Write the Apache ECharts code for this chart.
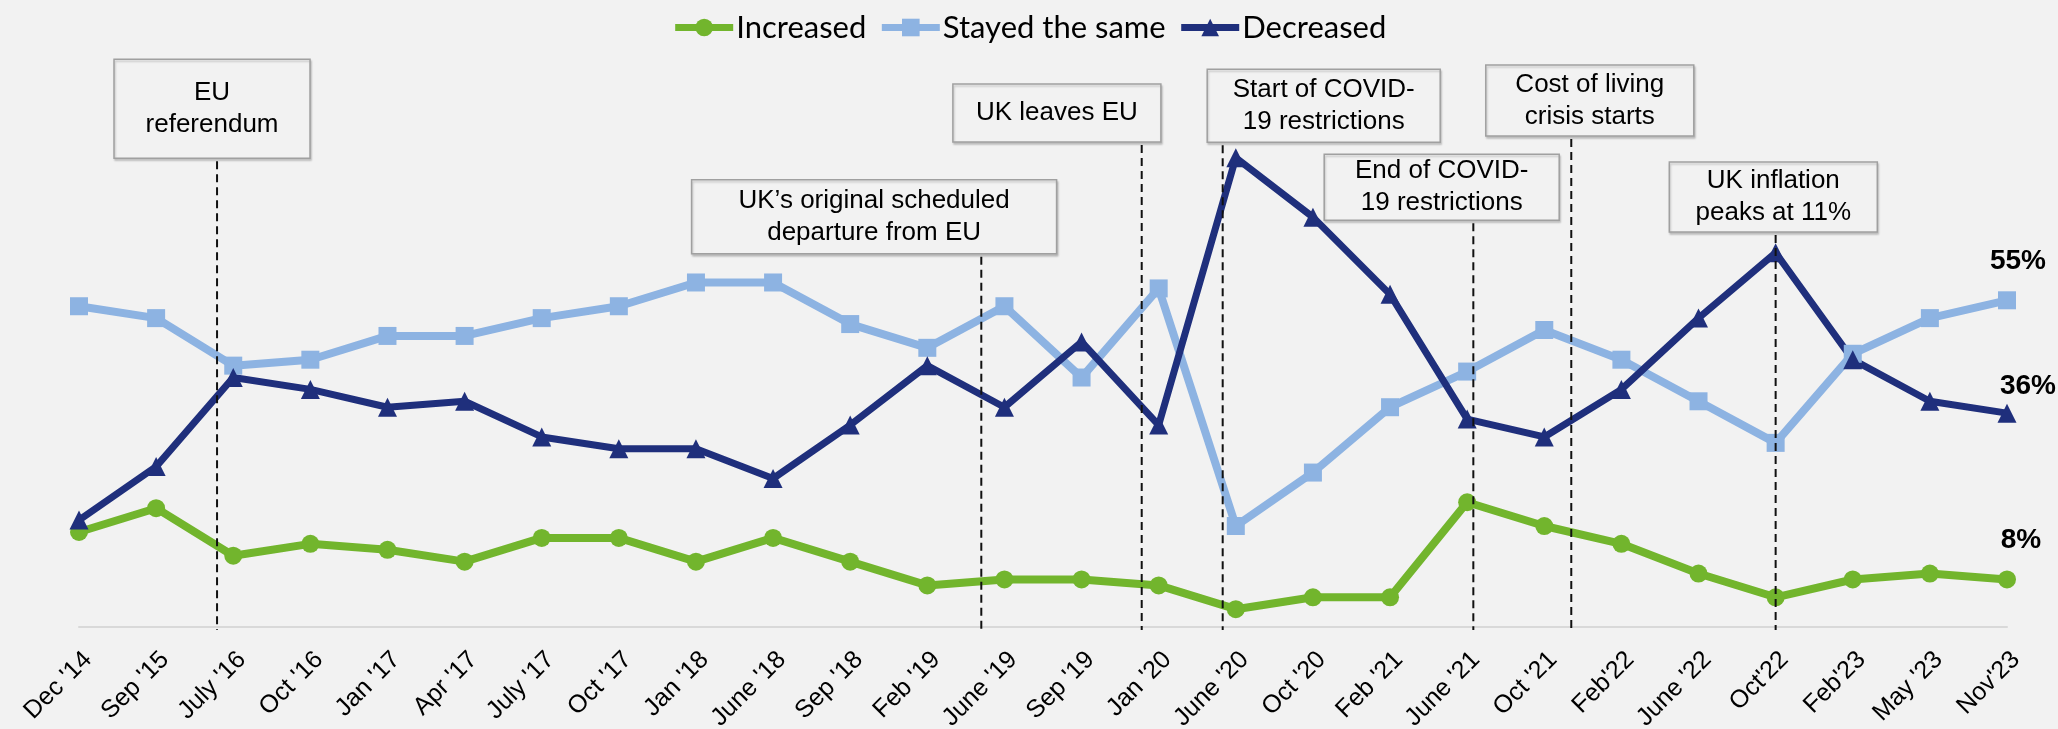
<!DOCTYPE html>
<html>
<head>
<meta charset="utf-8">
<title>Perceived change over time</title>
<script src="https://cdn.jsdelivr.net/npm/echarts@6/dist/echarts.min.js"></script>
<style>
  html, body { margin: 0; padding: 0; background: #f2f2f2; }
  #chart { width: 2058px; height: 729px; }
</style>
</head>
<body>
<div id="chart"></div>
<script>
// Survey waves
const categories = ["Dec '14", "Sep '15", "July '16", "Oct '16", "Jan '17", "Apr '17", "July '17",
  "Oct '17", "Jan '18", "June '18", "Sep '18", "Feb '19", "June '19", "Sep '19", "Jan '20",
  "June '20", "Oct '20", "Feb '21", "June '21", "Oct '21", "Feb'22", "June '22", "Oct'22",
  "Feb'23", "May '23", "Nov'23"];

// Share of respondents (%)
const increased  = [16, 20, 12, 14, 13, 11, 15, 15, 11, 15, 11, 7, 8, 8, 7, 3, 5, 5, 21, 17, 14, 9, 5, 8, 9, 8];
const stayedSame = [54, 52, 44, 45, 49, 49, 52, 54, 58, 58, 51, 47, 54, 42, 57, 17, 26, 37, 43, 50, 45, 38, 31, 46, 52, 55];
const decreased  = [18, 27, 42, 40, 37, 38, 32, 30, 30, 25, 34, 44, 37, 48, 34, 79, 69, 56, 35, 32, 40, 52, 63, 45, 38, 36];

// Events and when they happened, as a position between survey waves
const eventLabels = ["EU\nreferendum", "UK\u2019s original scheduled\ndeparture from EU", "UK leaves EU",
  "Start of COVID-\n19 restrictions", "End of COVID-\n19 restrictions", "Cost of living\ncrisis starts",
  "UK inflation\npeaks at 11%"];
const eventAt = [1.79, 11.70, 13.78, 14.83, 18.08, 19.35, 22.0];

// Callout placement: box centre (wave index), box top (%), box size (px)
const calloutLayout = [
  { cx: 1.725, top: 95.6, w: 196, h: 99 },
  { cx: 10.31, top: 75.3, w: 365, h: 74 },
  { cx: 12.68, top: 91.4, w: 208, h: 58 },
  { cx: 16.14, top: 93.9, w: 233, h: 73 },
  { cx: 17.67, top: 79.6, w: 235, h: 66 },
  { cx: 19.59, top: 94.6, w: 208, h: 71 },
  { cx: 21.97, top: 78.3, w: 208, h: 70 }
];

const ARIAL = "'Liberation Sans', Arial, sans-serif";

function withEndLabel(values, offset) {
  return values.map((v, i) => i === values.length - 1 ? {
    value: v,
    label: {
      show: true, position: 'top', distance: 0, offset: offset,
      formatter: '{c}%', fontFamily: ARIAL, fontWeight: 'bold', fontSize: 28, color: '#000'
    }
  } : v);
}

function lineSeries(name, values, color, symbol, size, width, offset) {
  return {
    name: name, type: 'line', data: withEndLabel(values, offset),
    symbol: symbol, symbolSize: size, showSymbol: true,
    lineStyle: { color: color, width: width },
    itemStyle: { color: color },
    emphasis: { disabled: true },
    z: 2
  };
}

const chart = echarts.init(document.getElementById('chart'), null, { renderer: 'canvas' });

chart.setOption({
  backgroundColor: '#f2f2f2',
  animation: false,
  legend: {
    top: 7, left: 'center', padding: [5, 0, 5, 34],
    itemWidth: 58, itemHeight: 22, itemGap: 12,
    lineStyle: { width: 7 },
    textStyle: { fontFamily: "Lato, 'Open Sans', sans-serif", fontSize: 31, color: '#000', padding: [0, 0, 0, -2] },
    data: ['Increased', 'Stayed the same', 'Decreased']
  },
  grid: { left: 79, right: 51, top: 33, bottom: 102, containLabel: false, outerBoundsMode: 'none' },
  xAxis: [
    {
      type: 'category', data: categories, boundaryGap: false,
      axisLine: { lineStyle: { color: '#d9d9d9', width: 2 } },
      axisTick: { show: false },
      splitLine: { show: false },
      axisLabel: {
        interval: 0, rotate: 45, margin: 20, verticalAlign: 'top',
        fontFamily: ARIAL, fontSize: 25, color: '#000'
      }
    },
    { type: 'value', min: 0, max: categories.length - 1, show: false }
  ],
  yAxis: { type: 'value', min: 0, max: 100, show: false, splitLine: { show: false } },
  series: [
    lineSeries('Increased', increased, '#72b52d', 'circle', 18, 8, [14, -16]),
    lineSeries('Stayed the same', stayedSame, '#8db3e2', 'rect', 18, 8, [11, -16]),
    lineSeries('Decreased', decreased, '#1f2f7c', 'triangle', 19, 7, [21, -3]),
    {
      type: 'custom', xAxisIndex: 1, yAxisIndex: 0, z: 5, silent: true, clip: false,
      data: eventAt.map((x) => [x, 0]),
      renderItem: function (params, api) {
        const i = params.dataIndex;
        const lay = calloutLayout[i];
        const base = api.coord([api.value(0), 0]);
        const topLeft = api.coord([lay.cx, lay.top]);
        const bx = topLeft[0] - lay.w / 2;
        const by = topLeft[1];
        return {
          type: 'group',
          children: [
            {
              type: 'line',
              shape: { x1: base[0], y1: by + lay.h + 3, x2: base[0], y2: base[1] + 3 },
              style: { stroke: '#111', lineWidth: 2, lineDash: [8, 5] }
            },
            {
              type: 'rect',
              shape: { x: bx, y: by, width: lay.w, height: lay.h },
              style: {
                fill: '#f2f2f2', stroke: '#a0a0a0', lineWidth: 1.5,
                shadowBlur: 2, shadowOffsetX: 1, shadowOffsetY: 2, shadowColor: 'rgba(0,0,0,0.18)'
              }
            },
            {
              type: 'text',
              x: bx + lay.w / 2, y: by + lay.h / 2,
              style: {
                text: eventLabels[i], fontFamily: ARIAL, fontSize: 26, lineHeight: 32,
                fill: '#000', align: 'center', verticalAlign: 'middle'
              }
            }
          ]
        };
      }
    }
  ]
});
</script>
</body>
</html>
